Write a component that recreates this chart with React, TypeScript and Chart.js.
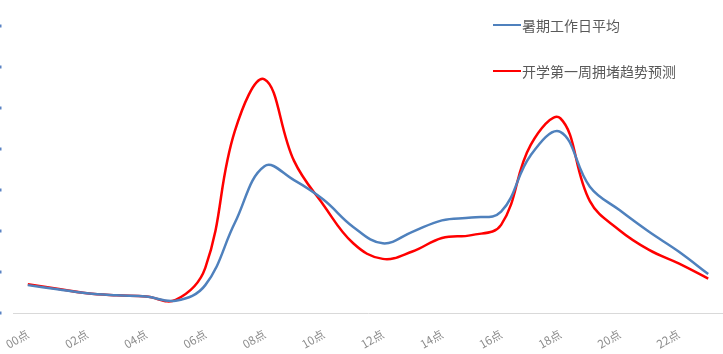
import React, { useEffect, useRef } from "react";
import { Chart, registerables } from "chart.js";

Chart.register(...registerables);

const categories = [
  "00点", "01点", "02点", "03点", "04点", "05点", "06点", "07点",
  "08点", "09点", "10点", "11点", "12点", "13点", "14点", "15点",
  "16点", "17点", "18点", "19点", "20点", "21点", "22点", "23点",
];

const summerName = "暑期工作日平均";
const summerValues = [
  0.68, 0.58, 0.48, 0.43, 0.4, 0.3, 0.68, 2.2, 3.58, 3.24, 2.76, 2.1,
  1.7, 1.98, 2.26, 2.33, 2.47, 3.85, 4.42, 3.08, 2.51, 1.98, 1.5, 0.95,
];

const forecastName = "开学第一周拥堵趋势预测";
const forecastValues = [
  0.7, 0.59, 0.48, 0.43, 0.4, 0.32, 1.1, 4.44, 5.7, 3.71, 2.63, 1.7,
  1.32, 1.5, 1.83, 1.9, 2.15, 4.1, 4.75, 2.73, 2.02, 1.54, 1.21, 0.84,
];

const yTicks = [0, 1, 2, 3, 4, 5, 6, 7];

const BLUE = "#4f81bd";
const RED = "#ff0000";

const yMarks = {
  id: "yMarks",
  afterDraw(chart: any) {
    const { ctx } = chart;
    const y = chart.scales.y;
    ctx.save();
    ctx.fillStyle = "#5b83c4";
    yTicks.forEach((v) => {
      const py = y.getPixelForValue(v);
      ctx.fillRect(0, py - 1.5, 1.5, 3);
    });
    ctx.restore();
  },
};

export default function App() {
  const ref = useRef<HTMLCanvasElement | null>(null);

  useEffect(() => {
    document.body.style.margin = "0";
    if (!ref.current) return;
    const chart = new Chart(ref.current, {
      type: "line",
      data: {
        labels: categories,
        datasets: [
          {
            label: summerName,
            data: summerValues,
            borderColor: BLUE,
            backgroundColor: BLUE,
            borderWidth: 2.5,
            pointRadius: 0,
            tension: 0.4,
            fill: false,
          },
          {
            label: forecastName,
            data: forecastValues,
            borderColor: RED,
            backgroundColor: RED,
            borderWidth: 2.5,
            pointRadius: 0,
            tension: 0.4,
            fill: false,
          },
        ],
      },
      options: {
        animation: false,
        responsive: false,
        devicePixelRatio: 1,
        layout: { padding: { top: 26, left: 0, right: 0, bottom: 0 } },
        plugins: { legend: { display: false }, tooltip: { enabled: false } },
        scales: {
          x: {
            type: "category",
            offset: true,
            grid: { display: true, drawOnChartArea: false, drawTicks: false },
            border: { display: true, color: "#d9d9d9", width: 1 },
            ticks: {
              autoSkip: false,
              minRotation: 30,
              maxRotation: 30,
              padding: 14,
              color: "#8c8c8c",
              font: { family: "'Noto Sans CJK SC', 'Noto Sans', sans-serif", size: 11.5 },
              callback: (_v: any, i: number) => (i % 2 === 0 ? categories[i] : ""),
            },
            afterFit: (s: any) => {
              s.height = 41;
              s.paddingLeft = 0;
              s.paddingRight = 0;
            },
          },
          y: {
            min: 0,
            max: 7,
            ticks: { display: false, stepSize: 1 },
            grid: { display: false },
            border: { display: false },
            afterFit: (s: any) => {
              s.width = 13;
            },
          },
        },
      },
      plugins: [yMarks],
    });
    return () => chart.destroy();
  }, []);

  const legendItems = [
    { name: summerName, color: BLUE, top: 25 },
    { name: forecastName, color: RED, top: 71 },
  ];

  return (
    <div style={{ position: "absolute", left: 0, top: 0, width: 723, height: 354, background: "#fff" }}>
      <canvas ref={ref} width={723} height={354} style={{ display: "block" }} />
      {legendItems.map((it) => (
        <div
          key={it.name}
          style={{
            position: "absolute",
            left: 493,
            top: it.top - 10,
            height: 20,
            display: "flex",
            alignItems: "center",
            fontFamily: "'Noto Sans CJK SC', sans-serif",
            fontSize: 14,
            color: "#595959",
            whiteSpace: "nowrap",
          }}
        >
          <span style={{ display: "inline-block", width: 28, height: 2.5, background: it.color, marginRight: 1 }} />
          <span>{it.name}</span>
        </div>
      ))}
    </div>
  );
}
